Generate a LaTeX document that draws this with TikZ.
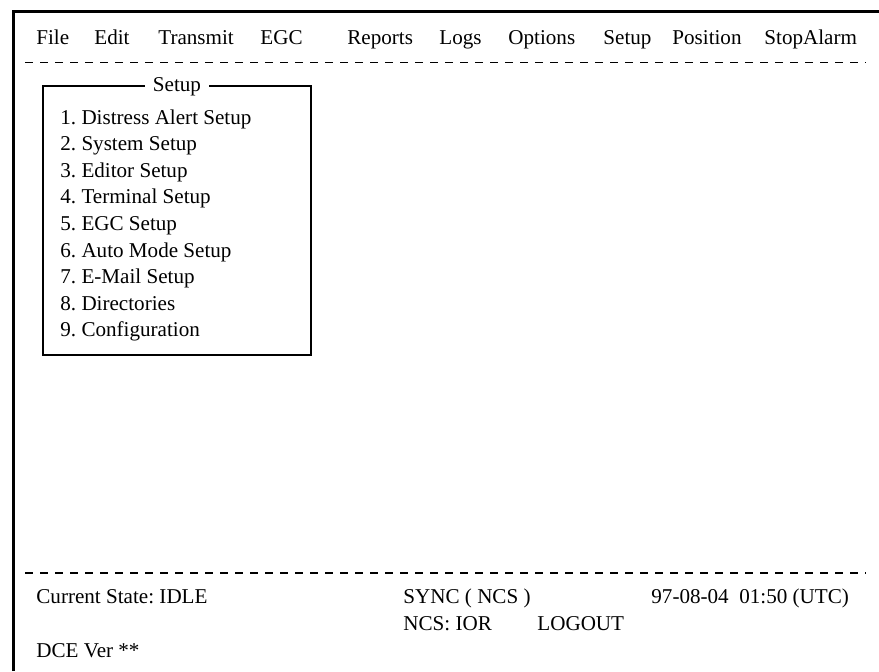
\documentclass[tikz,border=0pt]{standalone}
\usepackage{fontspec}
\setmainfont{Liberation Serif}
\frenchspacing

\begin{document}
\begin{tikzpicture}[x=0.5pt, y=-0.5pt,
  txt/.style={anchor=base west, inner sep=0pt, font=\fontsize{10.55}{12}\selectfont},
  frameline/.style={line width=1.5pt},
  sepline/.style={line width=0.6pt, dash pattern=on 4pt off 3.5pt},
  boxline/.style={line width=0.65pt}]
 \useasboundingbox (0,0) rectangle (879,671);

 % screen frame (cut off right and bottom)
 \draw[frameline] (13,671) -- (13,11) -- (879,11);

 % menu bar
 \node[txt] (file) at (36,44) {File};
 \node[txt] (edit) at (94,44) {Edit};
 \node[txt] (transmit) at (158,44) {Transmit};
 \node[txt] (egc) at (260,44) {EGC};
 \node[txt] (reports) at (347,44) {Reports};
 \node[txt] (logs) at (439,44) {Logs};
 \node[txt] (options) at (508,44) {Options};
 \node[txt] (setupmenu) at (603,44) {Setup};
 \node[txt] (position) at (672,44) {Position};
 \node[txt] (stopalarm) at (764,44) {StopAlarm};
 \draw[sepline] (25,62.5) -- (866,62.5);

 % setup window
 \draw[boxline] (43,86) rectangle (311,355);
 \node[txt, anchor=base, fill=white, inner xsep=4pt] (boxtitle) at (177,91) {Setup};
 \node[txt] (item1) at (60,124) {1. Distress Alert Setup};
 \node[txt] (item2) at (60,150.6) {2. System Setup};
 \node[txt] (item3) at (60,177.2) {3. Editor Setup};
 \node[txt] (item4) at (60,203.8) {4. Terminal Setup};
 \node[txt] (item5) at (60,230.4) {5. EGC Setup};
 \node[txt] (item6) at (60,257) {6. Auto Mode Setup};
 \node[txt] (item7) at (60,283.6) {7. E-Mail Setup};
 \node[txt] (item8) at (60,310.2) {8. Directories};
 \node[txt] (item9) at (60,336.8) {9. Configuration};

 % status lines
 \draw[sepline] (25,573) -- (866,573);
 \node[txt] (state) at (36,603) {Current State: IDLE};
 \node[txt] (sync) at (403,603) {SYNC ( NCS )};
 \node[txt] (clock) at (651,603) {97-08-04\ \ 01:50 (UTC)};
 \node[txt] (ncs) at (403,630) {NCS: IOR};
 \node[txt] (logout) at (537,630) {LOGOUT};
 \node[txt] (dcever) at (36,657) {DCE Ver **};
\end{tikzpicture}
\end{document}
